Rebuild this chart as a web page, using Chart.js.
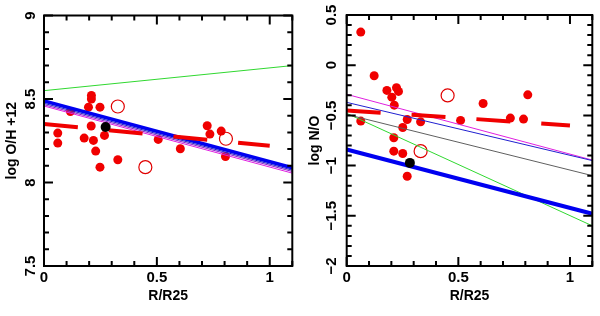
<!DOCTYPE html>
<html>
<head>
<meta charset="utf-8">
<script src="https://cdn.jsdelivr.net/npm/chart.js@4.4.1/dist/chart.umd.min.js"></script>
<style>
  body { margin: 0; background: #fff; }
  #wrap { display: flex; width: 600px; height: 316px; }
  canvas { display: block; }
</style>
</head>
<body>
<div id="wrap">
  <canvas id="oh" width="300" height="316"></canvas>
  <canvas id="no" width="300" height="316"></canvas>
</div>
<script>
// galactocentric radius of the HII regions, R/R25
let hii_r = [0.061, 0.061, 0.117, 0.178, 0.197, 0.21, 0.21, 0.209, 0.219, 0.229,
             0.248, 0.248, 0.268, 0.327, 0.506, 0.604, 0.723, 0.735, 0.785, 0.804];
let hii_oh = [8.296, 8.236, 8.425, 8.266, 8.451, 8.521, 8.50, 8.338, 8.252, 8.188,
              8.451, 8.092, 8.282, 8.136, 8.258, 8.202, 8.340, 8.290, 8.308, 8.156];

let hii_no_r = [0.063, 0.123, 0.18, 0.223, 0.232, 0.202, 0.213, 0.063, 0.271, 0.331,
                0.251, 0.211, 0.211, 0.251, 0.271, 0.510, 0.611, 0.733, 0.792, 0.811];
let hii_no = [0.33, -0.105, -0.251, -0.225, -0.261, -0.318, -0.398, -0.557, -0.541, -0.564,
              -0.620, -0.723, -0.856, -0.880, -1.106, -0.550, -0.381, -0.527, -0.537, -0.295];

// open symbols
let open_r = [0.327, 0.449, 0.806];
let open_oh = [8.455, 8.092, 8.262];
let open_no_r = [0.452, 0.331];
let open_no = [-0.301, -0.856];

// black symbol
let nuc_r = [0.273];
let nuc_oh = [8.332];
let nuc_no_r = [0.283];
let nuc_no = [-0.973];

// gradients, values at the two ends
let fit_r = [0, 1];
let fit_oh = [8.35, 8.22];
let fit_no = [-0.45, -0.60];
let grad_r = [0, 1.1];
let oh_green = [8.55, 8.70];
let oh_blue_thick = [8.488, 8.088];
let oh_blue = [8.474, 8.074];
let oh_purple = [8.466, 8.066];
let oh_magenta = [8.458, 8.056];
let no_magenta = [-0.29, -0.945];
let no_blue = [-0.37, -0.95];
let no_gray = [-0.49, -1.10];
let no_green = [-0.48, -1.60];
let no_blue_thick = [-0.84, -1.48];

let x_ticks = [0, 0.5, 1];
let oh_ticks = [7.5, 8, 8.5, 9];
let no_ticks = [-2, -1.5, -1, -0.5, 0, 0.5];

const FONT = "'Liberation Sans', Arial, Helvetica, sans-serif";

function pts(xs, ys) {
    return xs.map((x, i) => ({x: x, y: ys[i]}));
}

function lineSet(xs, ys, color, width, order, dash) {
    return {
        type: "line",
        data: pts(xs, ys),
        borderColor: color,
        borderWidth: width,
        borderDash: dash || [],
        borderCapStyle: "butt",
        pointRadius: 0,
        fill: false,
        order: order
    };
}

function dotSet(xs, ys, color, radius, order) {
    return {
        data: pts(xs, ys),
        backgroundColor: color,
        borderWidth: 0,
        pointRadius: radius,
        order: order
    };
}

function ringSet(xs, ys, color, radius, order) {
    return {
        data: pts(xs, ys),
        backgroundColor: "rgba(0,0,0,0)",
        borderColor: color,
        borderWidth: 1.2,
        pointRadius: radius,
        order: order
    };
}

// frame with inward ticks on all four sides, minor every 0.1
const frameTicks = {
    id: "frameTicks",
    afterDatasetsDraw(chart) {
        let ctx = chart.ctx;
        let a = chart.chartArea;
        let xs = chart.scales.x;
        let ys = chart.scales.y;
        ctx.save();
        ctx.strokeStyle = "#000";
        ctx.lineWidth = 2;
        ctx.strokeRect(a.left, a.top, a.right - a.left, a.bottom - a.top);
        ctx.beginPath();
        let nx = Math.round((xs.max - xs.min) * 10);
        for (let i = 0; i <= nx; i++) {
            let v = xs.min + i / 10;
            let px = xs.getPixelForValue(v);
            let len = (i % 5 == 0) ? 9 : 5;
            ctx.moveTo(px, a.bottom);
            ctx.lineTo(px, a.bottom - len);
            ctx.moveTo(px, a.top);
            ctx.lineTo(px, a.top + len);
        }
        let ny = Math.round((ys.max - ys.min) * 10);
        for (let i = 0; i <= ny; i++) {
            let v = ys.min + i / 10;
            let py = ys.getPixelForValue(v);
            let major = Math.abs(v * 2 - Math.round(v * 2)) < 1e-6;
            let len = major ? 9 : 5;
            ctx.moveTo(a.left, py);
            ctx.lineTo(a.left + len, py);
            ctx.moveTo(a.right, py);
            ctx.lineTo(a.right - len, py);
        }
        ctx.stroke();
        ctx.restore();
    }
};

function minusLabel(v) {
    return v < 0 ? "\u2212" + Math.abs(v) : String(v);
}

function makeOptions(cfg) {
    let font = {family: FONT, size: 14, weight: "bold"};
    let tickFont = {family: FONT, size: 15, weight: "bold"};
    return {
        responsive: false,
        animation: false,
        layout: {padding: {top: cfg.top, right: cfg.right, left: 0, bottom: 0}},
        plugins: {legend: {display: false}, tooltip: {enabled: false}},
        scales: {
            x: {
                type: "linear",
                min: 0,
                max: 1.1,
                afterBuildTicks: s => { s.ticks = x_ticks.map(v => ({value: v})); },
                afterFit: s => { s.height = 50; },
                grid: {display: false, drawTicks: false},
                border: {display: false},
                ticks: {font: tickFont, color: "#000", padding: 3, maxRotation: 0, autoSkip: false,
                        callback: v => minusLabel(v)},
                title: {display: true, text: "R/R25", font: font, color: "#000",
                        padding: {top: 0, bottom: 11.5}}
            },
            y: {
                type: "linear",
                min: cfg.ymin,
                max: cfg.ymax,
                afterBuildTicks: s => { s.ticks = cfg.yticks.map(v => ({value: v})); },
                afterFit: s => { s.width = cfg.ywidth; },
                grid: {display: false, drawTicks: false},
                border: {display: false},
                ticks: {font: tickFont, color: "#000", padding: cfg.tickPad, minRotation: 90,
                        maxRotation: 90, crossAlign: "center", autoSkip: false,
                        callback: v => minusLabel(v)},
                title: {display: true, text: cfg.ytitle, font: font, color: "#000",
                        padding: {top: cfg.titlePad, bottom: 0}}
            }
        }
    };
}

let chart_oh = new Chart(document.getElementById("oh").getContext("2d"), {
    type: "scatter",
    data: {
        datasets: [
            dotSet(nuc_r, nuc_oh, "#000", 5, 0),
            lineSet(fit_r, fit_oh, "#f00000", 4, 1, [34, 31]),
            lineSet(grad_r, oh_blue_thick, "#0000f0", 3.5, 2),
            lineSet(grad_r, oh_blue, "#2020c0", 1, 3),
            lineSet(grad_r, oh_purple, "#9020d0", 1, 4),
            lineSet(grad_r, oh_magenta, "#e020e0", 1, 5),
            lineSet(grad_r, oh_green, "#30d830", 1, 6),
            ringSet(open_r, open_oh, "#e00000", 6.5, 7),
            dotSet(hii_r, hii_oh, "#f00000", 4.5, 8)
        ]
    },
    options: makeOptions({top: 15.5, right: 4.3, ymin: 7.5, ymax: 9, yticks: oh_ticks,
                          ywidth: 44, tickPad: 2.5, titlePad: 3.6, ytitle: "log O/H +12"}),
    plugins: [frameTicks]
});

let chart_no = new Chart(document.getElementById("no").getContext("2d"), {
    type: "scatter",
    data: {
        datasets: [
            dotSet(nuc_no_r, nuc_no, "#000", 5, 0),
            lineSet(fit_r, fit_no, "#f00000", 4, 1, [34, 31]),
            lineSet(grad_r, no_blue_thick, "#0000f0", 4, 2),
            lineSet(grad_r, no_blue, "#2020d0", 1, 3),
            lineSet(grad_r, no_magenta, "#e020e0", 1, 4),
            lineSet(grad_r, no_gray, "#606060", 1, 5),
            lineSet(grad_r, no_green, "#30d830", 1, 6),
            ringSet(open_no_r, open_no, "#e00000", 6.5, 7),
            dotSet(hii_no_r, hii_no, "#f00000", 4.5, 8)
        ]
    },
    options: makeOptions({top: 15, right: 3, ymin: -2, ymax: 0.5, yticks: no_ticks,
                          ywidth: 46.7, tickPad: 0.5, titlePad: 6.6, ytitle: "log N/O"}),
    plugins: [frameTicks]
});
</script>
</body>
</html>
